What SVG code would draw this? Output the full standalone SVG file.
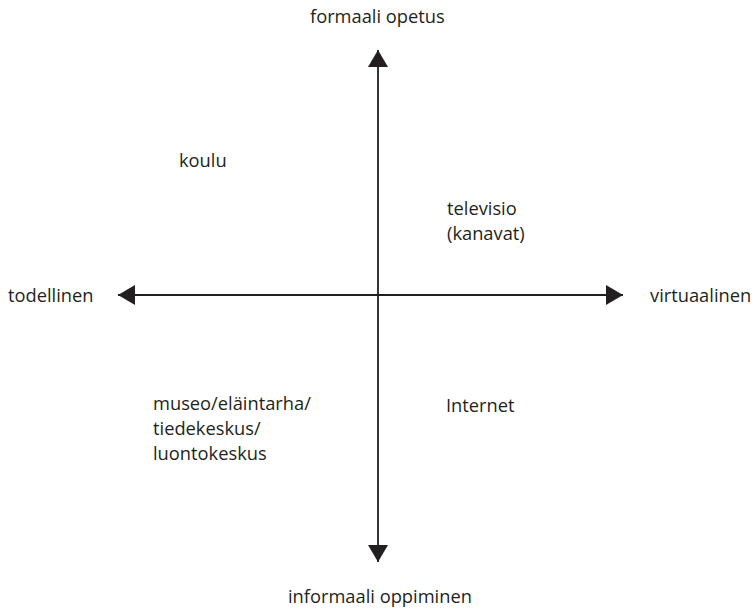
<svg xmlns="http://www.w3.org/2000/svg" width="756" height="615" viewBox="0 0 756 615">
<defs>
<style>
.lbl{font-family:"Open Sans","Noto Sans","Liberation Sans",sans-serif;font-size:18.3px;fill:#231f20}
.ax{stroke:#231f20;stroke-width:1.8;fill:none}
</style>
<marker id="ah" markerUnits="userSpaceOnUse" markerWidth="18" markerHeight="21" refX="17" refY="10" orient="auto-start-reverse" viewBox="0 0 18 21">
<path d="M0,0 L17,10 L0,20 Z" fill="#231f20"/>
</marker>
</defs>
<rect width="756" height="615" fill="#fff"/>
<g id="connectors">
<line class="ax" x1="378" y1="50" x2="378" y2="562" marker-start="url(#ah)" marker-end="url(#ah)"/>
<line class="ax" x1="118" y1="295" x2="623" y2="295" marker-start="url(#ah)" marker-end="url(#ah)"/>
</g>
<g id="top"><text class="lbl" x="310" y="23">formaali opetus</text></g>
<g id="bottom"><text class="lbl" x="288" y="603">informaali oppiminen</text></g>
<g id="left"><text class="lbl" x="8" y="302">todellinen</text></g>
<g id="right"><text class="lbl" x="650" y="302">virtuaalinen</text></g>
<g id="koulu"><text class="lbl" x="179" y="167">koulu</text></g>
<g id="televisio"><text class="lbl" x="447" y="215">televisio</text><text class="lbl" x="447" y="240">(kanavat)</text></g>
<g id="museo"><text class="lbl" x="153" y="410">museo/eläintarha/</text><text class="lbl" x="153" y="435">tiedekeskus/</text><text class="lbl" x="153" y="460">luontokeskus</text></g>
<g id="internet"><text class="lbl" x="446" y="412">Internet</text></g>
</svg>
